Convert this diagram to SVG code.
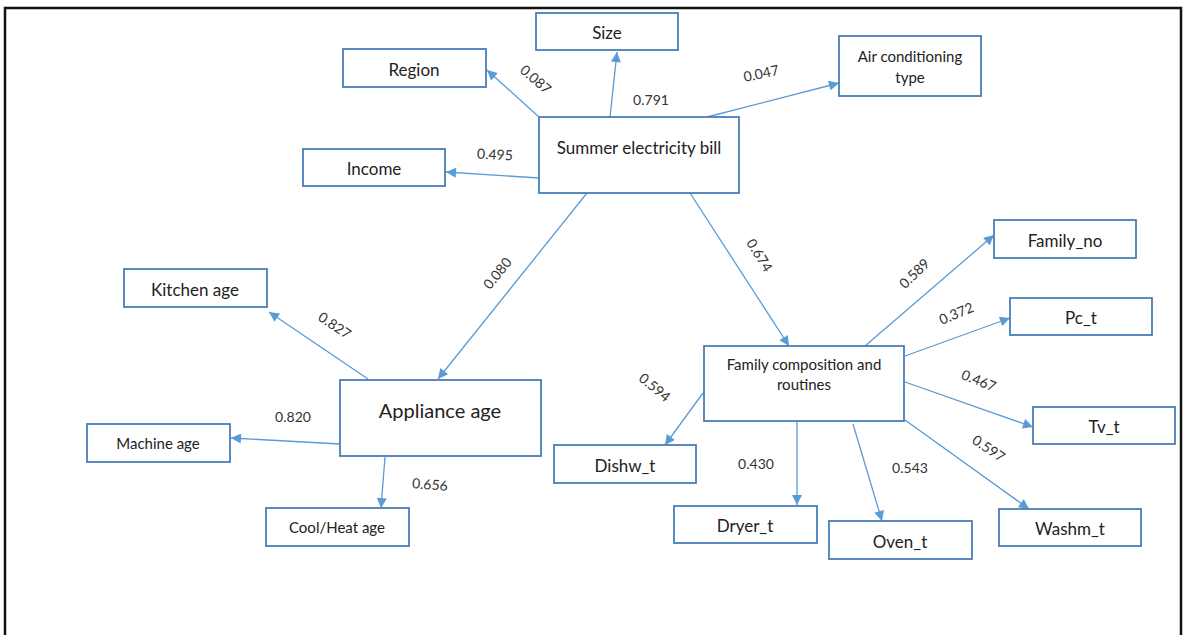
<svg xmlns="http://www.w3.org/2000/svg" width="1184" height="635" viewBox="0 0 1184 635">
<style>
.box{fill:#fff;stroke:#4A7EBB;stroke-width:1.8}
.t{font-family:Lato,"Liberation Sans",sans-serif;font-size:17px;fill:#222;text-anchor:middle;dominant-baseline:central}
.s{font-size:15px}
.big{font-size:20px}
.lbl{font-family:Lato,"Liberation Sans",sans-serif;font-size:14px;fill:#333;text-anchor:middle;dominant-baseline:central}
.c{stroke:#5B9BD5;stroke-width:1.3;fill:none;marker-end:url(#ah)}
</style>
<defs>
<marker id="ah" viewBox="0 0 10 10" refX="10" refY="5" markerWidth="12" markerHeight="10" markerUnits="userSpaceOnUse" orient="auto">
<path d="M0,0 L10,5 L0,10 z" fill="#5B9BD5"/>
</marker>
</defs>
<rect x="0" y="0" width="1184" height="635" fill="#fff"/>
<rect x="5" y="8" width="1176" height="640" fill="none" stroke="#111" stroke-width="2.5"/>

<g id="connectors">
<line class="c" x1="539" y1="117" x2="487" y2="70"/>
<line class="c" x1="610" y1="117" x2="617" y2="52"/>
<line class="c" x1="707" y1="117" x2="839" y2="83"/>
<line class="c" x1="539" y1="178" x2="446" y2="172"/>
<line class="c" x1="587" y1="193" x2="438" y2="379"/>
<line class="c" x1="690" y1="193" x2="789" y2="346"/>
<line class="c" x1="368" y1="379" x2="269" y2="312"/>
<line class="c" x1="340" y1="444" x2="231" y2="438"/>
<line class="c" x1="385" y1="457" x2="381" y2="508"/>
<line class="c" x1="865" y1="346" x2="994" y2="235"/>
<line class="c" x1="905" y1="356" x2="1010" y2="318"/>
<line class="c" x1="905" y1="382" x2="1033" y2="427"/>
<line class="c" x1="905" y1="420" x2="1029" y2="509"/>
<line class="c" x1="853" y1="424" x2="882" y2="521"/>
<line class="c" x1="797" y1="421" x2="797" y2="505"/>
<line class="c" x1="703" y1="393" x2="665" y2="445"/>
<text class="lbl" transform="translate(536,79) rotate(41)">0.087</text>
<text class="lbl" x="651" y="99">0.791</text>
<text class="lbl" transform="translate(761,73) rotate(-12)">0.047</text>
<text class="lbl" transform="translate(495,154) rotate(3)">0.495</text>
<text class="lbl" transform="translate(497,273) rotate(-51)">0.080</text>
<text class="lbl" transform="translate(760,255) rotate(58)">0.674</text>
<text class="lbl" transform="translate(335,325) rotate(34)">0.827</text>
<text class="lbl" x="293" y="416">0.820</text>
<text class="lbl" transform="translate(430,484) rotate(5)">0.656</text>
<text class="lbl" transform="translate(914,273) rotate(-44)">0.589</text>
<text class="lbl" transform="translate(956,313) rotate(-23)">0.372</text>
<text class="lbl" transform="translate(979,380) rotate(22)">0.467</text>
<text class="lbl" transform="translate(989,448) rotate(34)">0.597</text>
<text class="lbl" x="910" y="467">0.543</text>
<text class="lbl" x="756" y="463">0.430</text>
<text class="lbl" transform="translate(655,387) rotate(40)">0.594</text>
</g>

<g id="size"><rect class="box" x="536" y="13" width="142" height="37"/><text class="t" x="607" y="32">Size</text></g>
<g id="region"><rect class="box" x="343" y="49" width="143" height="38"/><text class="t" x="414" y="69">Region</text></g>
<g id="income"><rect class="box" x="303" y="149" width="142" height="37"/><text class="t" x="374" y="168">Income</text></g>
<g id="aircon"><rect class="box" x="839" y="36" width="142" height="60"/><text class="t s" x="910" y="56">Air conditioning</text><text class="t s" x="910" y="77">type</text></g>
<g id="summer"><rect class="box" x="539" y="117" width="200" height="76"/><text class="t" x="639" y="147">Summer electricity bill</text></g>
<g id="appliance"><rect class="box" x="340" y="380" width="201" height="76"/><text class="t big" x="440" y="410">Appliance age</text></g>
<g id="kitchen"><rect class="box" x="124" y="269" width="143" height="38"/><text class="t" x="195" y="289">Kitchen age</text></g>
<g id="machine"><rect class="box" x="87" y="424" width="143" height="38"/><text class="t s" x="158" y="443">Machine age</text></g>
<g id="coolheat"><rect class="box" x="266" y="508" width="143" height="38"/><text class="t s" x="337" y="527">Cool/Heat age</text></g>
<g id="family"><rect class="box" x="704" y="346" width="200" height="75"/><text class="t s" x="804" y="364">Family composition and</text><text class="t s" x="804" y="384">routines</text></g>
<g id="familyno"><rect class="box" x="994" y="220" width="142" height="38"/><text class="t" x="1065" y="240">Family_no</text></g>
<g id="pct"><rect class="box" x="1010" y="298" width="142" height="37"/><text class="t" x="1081" y="317">Pc_t</text></g>
<g id="tvt"><rect class="box" x="1033" y="407" width="142" height="37"/><text class="t" x="1104" y="426">Tv_t</text></g>
<g id="washm"><rect class="box" x="999" y="509" width="142" height="37"/><text class="t" x="1070" y="528">Washm_t</text></g>
<g id="oven"><rect class="box" x="829" y="521" width="143" height="38"/><text class="t" x="900" y="541">Oven_t</text></g>
<g id="dryer"><rect class="box" x="674" y="506" width="143" height="37"/><text class="t" x="745" y="525">Dryer_t</text></g>
<g id="dishw"><rect class="box" x="554" y="445" width="142" height="38"/><text class="t" x="625" y="465">Dishw_t</text></g>
</svg>
